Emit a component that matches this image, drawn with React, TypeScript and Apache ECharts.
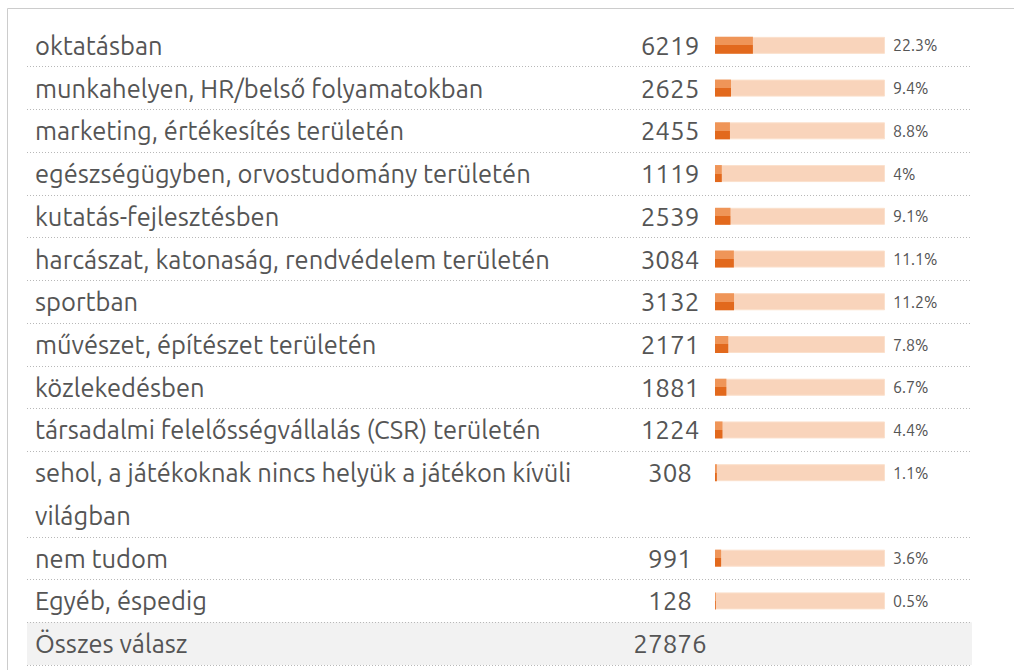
import React, { useEffect, useRef } from "react";
import * as echarts from "echarts";

const categories = [
  "oktatásban",
  "munkahelyen, HR/belső folyamatokban",
  "marketing, értékesítés területén",
  "egészségügyben, orvostudomány területén",
  "kutatás-fejlesztésben",
  "harcászat, katonaság, rendvédelem területén",
  "sportban",
  "művészet, építészet területén",
  "közlekedésben",
  "társadalmi felelősségvállalás (CSR) területén",
  "sehol, a játékoknak nincs helyük a játékon kívüli\nvilágban",
  "nem tudom",
  "Egyéb, éspedig",
];
const counts = [6219, 2625, 2455, 1119, 2539, 3084, 3132, 2171, 1881, 1224, 308, 991, 128];
const percents = [22.3, 9.4, 8.8, 4, 9.1, 11.1, 11.2, 7.8, 6.7, 4.4, 1.1, 3.6, 0.5];
const totalLabel = "Összes válasz";
const totalCount = 27876;

const FONT = "Ubuntu, 'Open Sans', 'Noto Sans', sans-serif";
const TEXT = "#555555";

type Slot = { label: string; kind: "cat" | "cont" | "total"; idx: number };

function buildSlots(): Slot[] {
  const slots: Slot[] = [];
  categories.forEach((c, i) => {
    c.split("\n").forEach((line, j) => {
      slots.push({ label: line, kind: j === 0 ? "cat" : "cont", idx: i });
    });
  });
  slots.push({ label: totalLabel, kind: "total", idx: -1 });
  return slots;
}

export default function App() {
  const ref = useRef<HTMLDivElement>(null);
  useEffect(() => {
    if (!ref.current) return;
    const chart = echarts.init(ref.current, undefined, { renderer: "svg" });
    const slots = buildSlots();
    const slotLabels = slots.map((s) => s.label);
    const areaColors = slots.map((s) => (s.kind === "total" ? "#f2f2f2" : "rgba(0,0,0,0)"));

    const bgData = slots.map((s) => (s.kind === "cat" ? 100 : "-"));
    const pctData = slots.map((s) => (s.kind === "cat" ? percents[s.idx] : "-"));
    const countData = slots.map((s) => (s.kind === "cont" ? "-" : 0));
    const countText = slots.map((s) =>
      s.kind === "cat" ? String(counts[s.idx]) : s.kind === "total" ? String(totalCount) : ""
    );
    const pctText = slots.map((s) => (s.kind === "cat" ? percents[s.idx] + "%" : ""));

    const gridTop = 24;
    const gridBottom = 5;

    chart.setOption({
      animation: false,
      graphic: [
        { type: "line", shape: { x1: 7.5, y1: 8.5, x2: 1014, y2: 8.5 }, style: { stroke: "#cccccc", lineWidth: 1 } },
        { type: "line", shape: { x1: 7.5, y1: 8.5, x2: 7.5, y2: 670 }, style: { stroke: "#cccccc", lineWidth: 1 } },
      ],
      grid: [
        { left: 27, right: 42, top: gridTop, bottom: gridBottom },
        { left: 715, width: 170, top: gridTop, bottom: gridBottom },
      ],
      xAxis: [
        { gridIndex: 0, type: "value", min: 0, max: 1, show: false },
        { gridIndex: 1, type: "value", min: 0, max: 100, show: false },
      ],
      yAxis: [
        {
          gridIndex: 0,
          type: "category",
          inverse: true,
          data: slotLabels,
          axisLine: { show: false },
          axisTick: { show: false },
          axisLabel: {
            inside: true,
            margin: 8,
            interval: 0,
            color: TEXT,
            fontSize: 25.5,
            fontFamily: FONT,
          },
          splitLine: {
            show: true,
            interval: (index: number) => {
              if (index === 0) return false;
              return !(slots[index] && slots[index].kind === "cont");
            },
            lineStyle: { color: "#b8b8b8", type: [1, 2], width: 1 },
          },
          splitArea: { show: true, interval: 0, areaStyle: { color: areaColors } },
        },
        {
          gridIndex: 1,
          type: "category",
          inverse: true,
          data: slotLabels,
          show: false,
        },
      ],
      series: [
        {
          type: "bar",
          xAxisIndex: 1,
          yAxisIndex: 1,
          data: bgData,
          barWidth: 17,
          barGap: "-100%",
          itemStyle: { color: "#f9d4bb", borderColor: "#fbe0cc", borderWidth: 1 },
          label: {
            show: true,
            position: "right",
            distance: 8,
            color: TEXT,
            fontSize: 16,
            fontFamily: FONT,
            formatter: (p: any) => pctText[p.dataIndex],
          },
          z: 2,
        },
        {
          type: "bar",
          xAxisIndex: 1,
          yAxisIndex: 1,
          data: pctData,
          barWidth: 17,
          barGap: "-100%",
          itemStyle: {
            color: new echarts.graphic.LinearGradient(0, 0, 0, 1, [
              { offset: 0, color: "#ef9558" },
              { offset: 0.5, color: "#ef9558" },
              { offset: 0.5, color: "#e2691d" },
              { offset: 1, color: "#e2691d" },
            ]),
          },
          z: 3,
        },
        {
          type: "bar",
          xAxisIndex: 1,
          yAxisIndex: 1,
          data: countData,
          barWidth: 17,
          barGap: "-100%",
          itemStyle: { color: "rgba(0,0,0,0)" },
          label: {
            show: true,
            position: "left",
            distance: 45,
            align: "center",
            color: TEXT,
            fontSize: 26,
            fontFamily: FONT,
            formatter: (p: any) => countText[p.dataIndex],
          },
          z: 4,
        },
      ],
    });
    return () => chart.dispose();
  }, []);
  return (
    <div
      ref={ref}
      style={{ position: "fixed", left: 0, top: 0, width: 1014, height: 670, background: "#fff" }}
    />
  );
}
